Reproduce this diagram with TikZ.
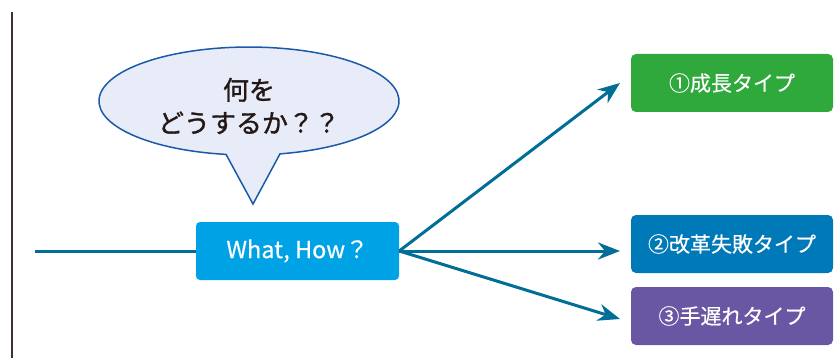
\documentclass[tikz,border=0pt]{standalone}
\usepackage{fontspec}
\setmainfont{Noto Sans CJK JP}
\newfontfamily\heavyjp[FakeBold=1.2]{Noto Sans CJK JP}
\newfontfamily\midjp[FakeBold=0.4]{Noto Sans CJK JP}
\usetikzlibrary{arrows.meta}
\definecolor{arrowc}{HTML}{006E96}
\definecolor{vline}{HTML}{3D3230}
\definecolor{bubfill}{HTML}{E8ECF8}
\definecolor{bubdraw}{HTML}{1A5AA8}
\definecolor{whatc}{HTML}{00A2E6}
\definecolor{greenc}{HTML}{2FA83C}
\definecolor{bluec}{HTML}{0079B8}
\definecolor{purplec}{HTML}{6A57A4}
\definecolor{txt}{HTML}{231815}
\tikzset{
  arr/.style={draw=arrowc, line width=3pt, -{Stealth[length=22pt,width=17pt,inset=7pt]}},
  typebox/.style={rounded corners=5pt, minimum width=202pt, minimum height=58pt, text=white, inner sep=0pt, font=\midjp\fontsize{21}{24}\selectfont},
}
\begin{document}
\begin{tikzpicture}[x=1pt,y=-1pt]
\useasboundingbox (0,0) rectangle (834,358);
% vertical rule
\draw[vline, line width=2pt] (12,12) -- (12,358);
% speech bubble
\draw[bubdraw, fill=bubfill, line width=1.5pt, line join=miter]
  (226.05,154.4) arc[start angle=98.8, end angle=438.07, x radius=150, y radius=54]
  -- (253,204) -- cycle;
\node[text=txt, align=center, font=\heavyjp\fontsize{26}{33}\selectfont] (bub) at (249,106) {何を\\どうするか？？};
% central box
\node[fill=whatc, rounded corners=4pt, minimum width=203pt, minimum height=58pt, text=white, inner sep=0pt, font=\midjp\fontsize{23.5}{26}\selectfont] (what) at (297.5,251) {What, How？};
\coordinate (start) at (35,251);
\draw[draw=arrowc, line width=3pt] (start) -- (what.west);
% type boxes
\node[typebox, fill=greenc] (t1) at (732,83) {①成長タイプ};
\node[typebox, fill=bluec] (t2) at (732,244) {②改革失敗タイプ};
\node[typebox, fill=purplec] (t3) at (732,316) {③手遅れタイプ};
\coordinate (e1) at (620,83);
\coordinate (e2) at (620,251);
\coordinate (e3) at (620,319);
\draw[arr] (what.east) -- (e1);
\draw[arr] (what.east) -- (e2);
\draw[arr] (what.east) -- (e3);
\end{tikzpicture}
\end{document}
